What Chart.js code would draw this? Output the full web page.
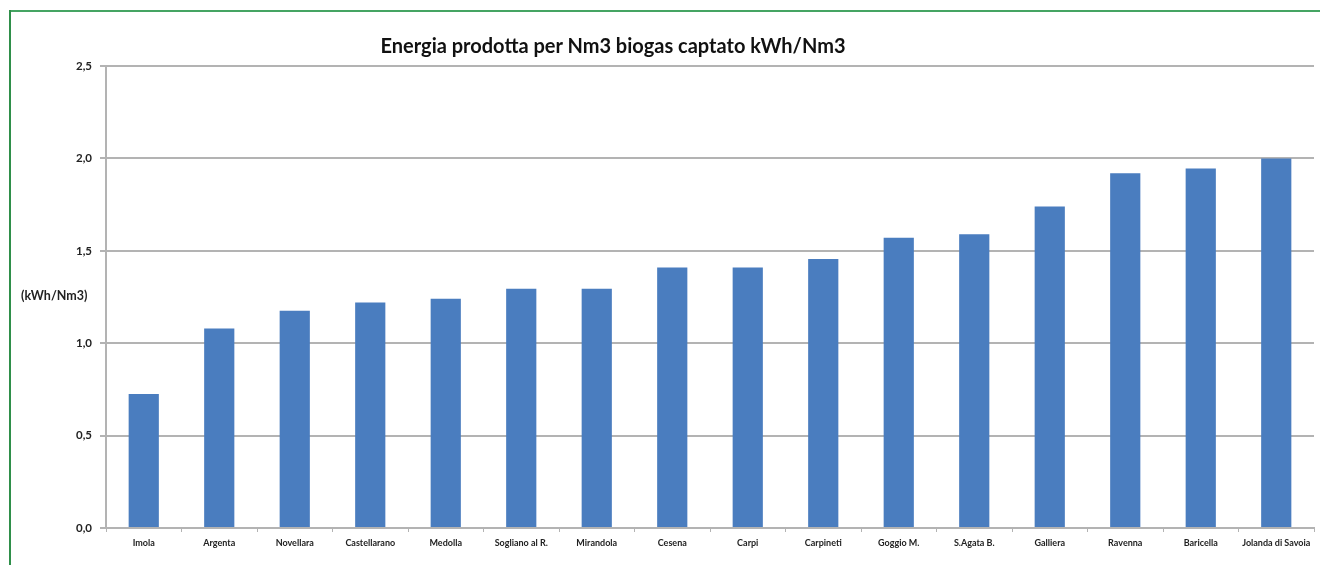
<!DOCTYPE html>
<html>
<head>
<meta charset="utf-8">
<script src="https://cdn.jsdelivr.net/npm/chart.js@4/dist/chart.umd.min.js"></script>
<style>
  html, body { margin: 0; padding: 0; background: #fff; overflow: hidden; }
  #wrap { position: relative; width: 1320px; height: 565px; overflow: hidden; }
  #topline { position: absolute; left: 9px; top: 10px; width: 1311px; height: 2px; background: #45a463; }
  #leftline { position: absolute; left: 9px; top: 10px; width: 2px; height: 555px; background: #2f8f4a; }
  #title { position: absolute; left: 360px; top: 33px; width: 506px; text-align: center;
    font: bold 20px Lato, "Open Sans", sans-serif; color: #111; white-space: nowrap; }
  #ylabel { position: absolute; left: 21px; top: 288px;
    font: bold 12.5px Lato, "Open Sans", sans-serif; color: #222; }
  canvas { position: absolute; left: 0; top: 0; }
</style>
</head>
<body>
<div id="wrap">
  <div id="topline"></div>
  <div id="leftline"></div>
  <canvas id="chart" width="1320" height="565"></canvas>
  <div id="title">Energia prodotta per Nm3 biogas captato kWh/Nm3</div>
  <div id="ylabel">(kWh/Nm3)</div>
</div>
<script>
// impianti, ordinati per resa
const impianti = [
  'Imola', 'Argenta', 'Novellara', 'Castellarano', 'Medolla', 'Sogliano al R.',
  'Mirandola', 'Cesena', 'Carpi', 'Carpineti', 'Goggio M.', 'S.Agata B.',
  'Galliera', 'Ravenna', 'Baricella', 'Jolanda di Savoia'
];
const resa = [0.725, 1.08, 1.175, 1.22, 1.24, 1.295, 1.295, 1.41, 1.41, 1.455, 1.57, 1.59, 1.74, 1.92, 1.945, 2.0];
const yTicks = [0, 0.5, 1.0, 1.5, 2.0, 2.5];

const gray = '#b3b3b3';
const fontFam = 'Lato, "Open Sans", sans-serif';

new Chart(document.getElementById('chart'), {
  type: 'bar',
  data: {
    labels: impianti,
    datasets: [{
      data: resa,
      backgroundColor: '#4a7dbf',
      borderWidth: 0,
      barPercentage: 0.4,
      categoryPercentage: 1
    }]
  },
  options: {
    responsive: false,
    animation: false,
    layout: { padding: { top: 66, right: 6, bottom: 0, left: 0 } },
    plugins: { legend: { display: false }, tooltip: { enabled: false } },
    scales: {
      x: {
        offset: true,
        afterFit: (s) => { s.height = 37; },
        grid: { drawOnChartArea: false, drawTicks: true, tickLength: 4, color: gray, lineWidth: 1 },
        border: { color: gray, width: 2 },
        ticks: {
          color: '#222', padding: 6, maxRotation: 0, autoSkip: false,
          font: { family: fontFam, size: 9, weight: 'bold' }
        }
      },
      y: {
        min: 0, max: 2.5,
        afterFit: (s) => { s.width = 106; },
        afterBuildTicks: (s) => { s.ticks = yTicks.map((v) => ({ value: v })); },
        grid: { color: gray, lineWidth: 2, tickLength: 6 },
        border: { color: gray, width: 2 },
        ticks: {
          color: '#222', padding: 8,
          font: { family: fontFam, size: 11.5, weight: 'bold' },
          callback: (v) => Number(v).toFixed(1).replace('.', ',')
        }
      }
    }
  }
});
</script>
</body>
</html>
